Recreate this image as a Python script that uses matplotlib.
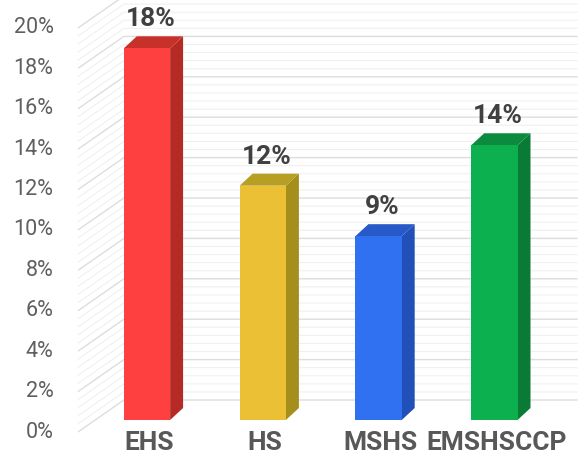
import numpy as np
import matplotlib
matplotlib.use("Agg")
import matplotlib.pyplot as plt
from matplotlib.patches import Polygon

categories = ["EHS", "HS", "MSHS", "EMSHSCCP"]
values = [18.4, 11.6, 9.1, 13.6]
value_labels = ["18%", "12%", "9%", "14%"]
tick_values = [0, 2, 4, 6, 8, 10, 12, 14, 16, 18, 20]
tick_labels = ["0%", "2%", "4%", "6%", "8%", "10%", "12%", "14%", "16%", "18%", "20%"]

front_colors = ["#FF4040", "#EBC034", "#3071F2", "#0DB04F"]
side_colors = ["#B52A24", "#A58E1C", "#2150B8", "#0A7B36"]
top_colors = ["#C8302A", "#B89E22", "#2759C8", "#0C8A3D"]

plt.rcParams["font.family"] = ["Roboto", "DejaVu Sans"]

fig = plt.figure(figsize=(5.84, 4.58), dpi=100)
ax = fig.add_axes([0, 0, 1, 1])
ax.set_xlim(-1.269, 3.774)
ax.set_ylim(-1.287, 21.386)
ax.axis("off")

# 3d-ish geometry (in data units)
half_w = 0.2
bar_dx, bar_dy = 0.112, 0.594
wall_x0, wall_x1, wall_dy = -0.596, -0.199, 1.584
wall_right = 3.72

# wall grid lines
for g in np.arange(0, 20.01, 0.4):
    major = abs(g / 2 - round(g / 2)) < 1e-6
    col = "#DDDDDD" if major else "#F0F0F0"
    lw = 1.0 if major else 0.8
    ax.plot([wall_x0, wall_x1, wall_right], [g, g + wall_dy, g + wall_dy],
            color=col, lw=lw, zorder=1, solid_capstyle="butt")

for i, v in enumerate(values):
    x0, x1 = i - half_w, i + half_w
    y0 = bar_dy
    side = [(x1, y0), (x1 + bar_dx, y0 + bar_dy), (x1 + bar_dx, y0 + bar_dy + v), (x1, y0 + v)]
    top = [(x0, y0 + v), (x1, y0 + v), (x1 + bar_dx, y0 + v + bar_dy), (x0 + bar_dx, y0 + v + bar_dy)]
    front = [(x0, y0), (x1, y0), (x1, y0 + v), (x0, y0 + v)]
    ax.add_patch(Polygon(side, closed=True, facecolor=side_colors[i], edgecolor="none", zorder=3))
    ax.add_patch(Polygon(top, closed=True, facecolor=top_colors[i], edgecolor="none", zorder=3))
    ax.add_patch(Polygon(front, closed=True, facecolor=front_colors[i], edgecolor="none", zorder=4))
    ax.text(i + 0.03, y0 + bar_dy + v + 0.25, value_labels[i], ha="center", va="bottom",
            fontsize=19, fontweight="bold", color="#404040", zorder=5)
    ax.text(i + 0.02, -0.55, categories[i], ha="center", va="center",
            fontsize=19, fontweight="bold", color="#585858", zorder=5)

for t, lab in zip(tick_values, tick_labels):
    ax.text(-0.808, t, lab, ha="right", va="center", fontsize=15.5, color="#5F5F5F")

fig.savefig("out.png", dpi=100)
